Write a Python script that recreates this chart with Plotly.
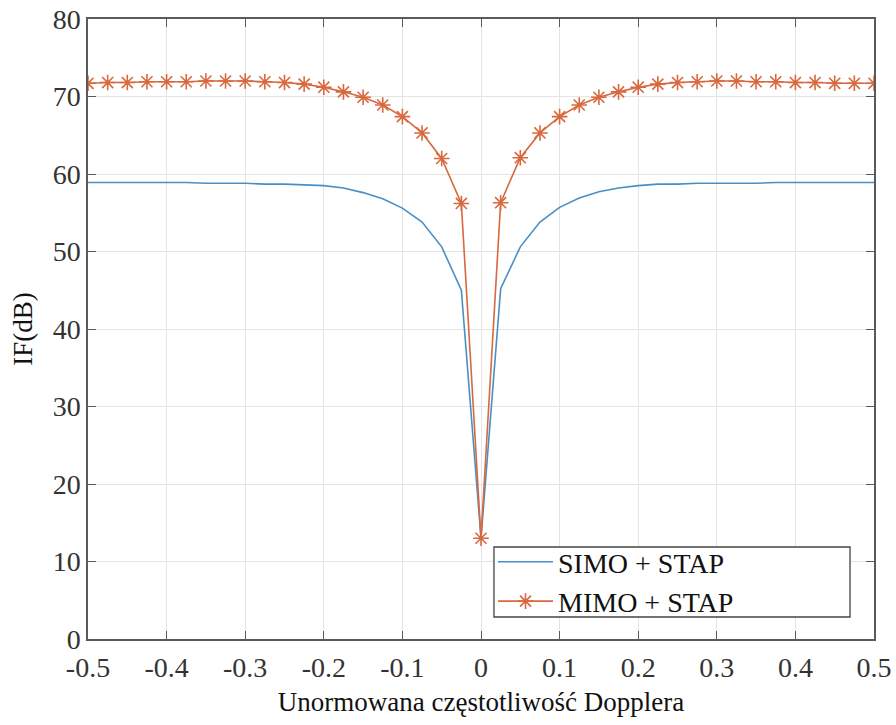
import plotly.graph_objects as go

doppler = [-0.5, -0.475, -0.45, -0.425, -0.4, -0.375, -0.35, -0.325, -0.3, -0.275,
           -0.25, -0.225, -0.2, -0.175, -0.15, -0.125, -0.1, -0.075, -0.05, -0.025,
           0.0, 0.025, 0.05, 0.075, 0.1, 0.125, 0.15, 0.175, 0.2, 0.225,
           0.25, 0.275, 0.3, 0.325, 0.35, 0.375, 0.4, 0.425, 0.45, 0.475, 0.5]

simo = [58.9, 58.9, 58.9, 58.9, 58.9, 58.9, 58.8, 58.8, 58.8, 58.7,
        58.7, 58.6, 58.5, 58.2, 57.6, 56.8, 55.6, 53.8, 50.6, 45.0,
        13.0, 45.2, 50.6, 53.8, 55.7, 56.9, 57.7, 58.2, 58.5, 58.7,
        58.7, 58.8, 58.8, 58.8, 58.8, 58.9, 58.9, 58.9, 58.9, 58.9, 58.9]

mimo = [71.7, 71.8, 71.8, 71.9, 71.9, 71.9, 72.0, 72.0, 72.0, 71.9,
        71.8, 71.6, 71.2, 70.6, 69.9, 68.9, 67.4, 65.3, 62.0, 56.2,
        13.0, 56.3, 62.1, 65.3, 67.4, 68.9, 69.9, 70.6, 71.2, 71.6,
        71.8, 71.9, 72.0, 72.0, 71.9, 71.9, 71.8, 71.8, 71.7, 71.7, 71.7]

x_ticks = [-0.5, -0.4, -0.3, -0.2, -0.1, 0, 0.1, 0.2, 0.3, 0.4, 0.5]
x_ticktext = ["-0.5", "-0.4", "-0.3", "-0.2", "-0.1", "0", "0.1", "0.2", "0.3", "0.4", "0.5"]
y_ticks = [0, 10, 20, 30, 40, 50, 60, 70, 80]

FONT = "Liberation Serif, Times New Roman, serif"

fig = go.Figure()
fig.add_trace(go.Scatter(
    x=doppler, y=simo, mode="lines", name="SIMO + STAP",
    line=dict(color="#4a8fc4", width=1.6),
))
fig.add_trace(go.Scatter(
    x=doppler, y=mimo, mode="lines+markers", name="MIMO + STAP",
    line=dict(color="#d8683e", width=1.6),
    marker=dict(symbol="asterisk-open", size=13, color="#d8683e",
                line=dict(color="#d8683e", width=1.6)),
))

axis_common = dict(
    showline=True, linecolor="#5a5a5a", linewidth=1.5, mirror="ticks",
    ticks="inside", ticklen=8, tickwidth=1.3, tickcolor="#5a5a5a",
    showgrid=True, gridcolor="#e4e4e4", gridwidth=1,
    zeroline=False, automargin=False,
    tickfont=dict(family=FONT, size=28, color="#333333"),
)

fig.update_xaxes(
    range=[-0.5, 0.5], tickvals=x_ticks, ticktext=x_ticktext,
    ticklabelstandoff=3,
    title=dict(text="Unormowana częstotliwość Dopplera",
               font=dict(family=FONT, size=27, color="#111111"), standoff=10),
    **axis_common,
)
fig.update_yaxes(
    range=[0, 80], tickvals=y_ticks,
    title=dict(text="IF(dB)", font=dict(family=FONT, size=27, color="#111111"), standoff=12),
    **axis_common,
)

# legend frame (white box with dark border), legend entries drawn on top of it
fig.add_shape(
    type="rect", xref="paper", yref="paper",
    x0=0.5165, x1=0.9695, y0=0.0355, y1=0.1484,
    fillcolor="white", line=dict(color="#444444", width=1.3), layer="above",
)

fig.update_layout(
    width=896, height=725,
    margin=dict(l=88, r=22, t=19, b=86),
    paper_bgcolor="white", plot_bgcolor="white",
    showlegend=True,
    legend=dict(
        orientation="v",
        x=0.5153, y=0.1645, xanchor="left", yanchor="top",
        bgcolor="rgba(0,0,0,0)", borderwidth=0,
        font=dict(family=FONT, size=28, color="#111111"),
        tracegroupgap=0, itemwidth=55,
    ),
)

fig.write_html("out.html")
